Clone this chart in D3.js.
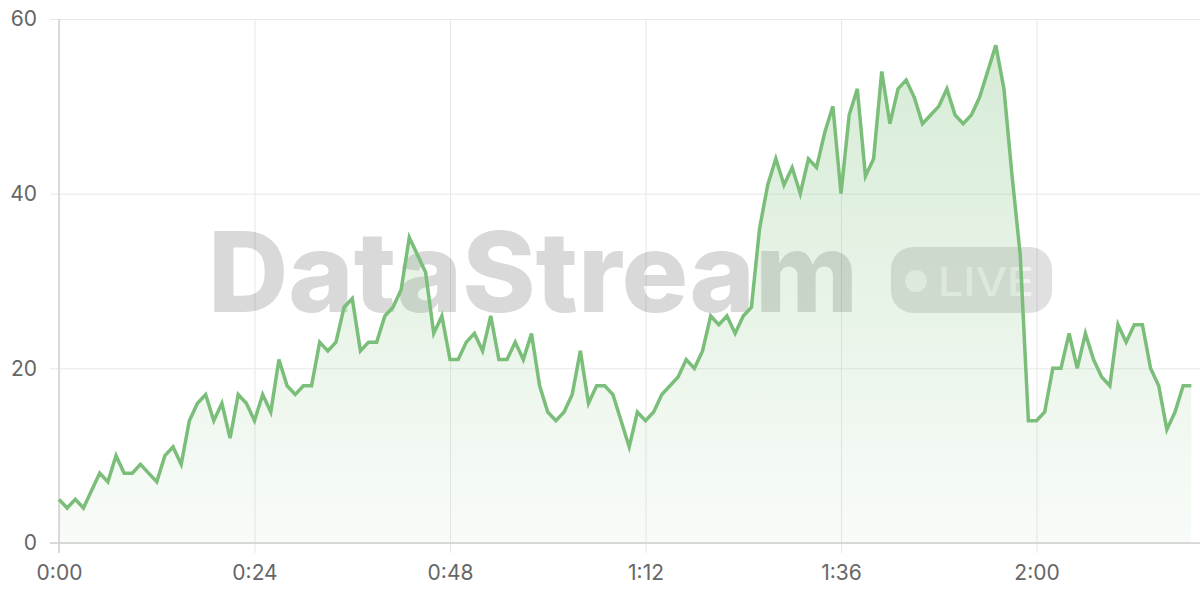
<!DOCTYPE html>
<html><head><meta charset="utf-8">
<script src="https://cdn.jsdelivr.net/npm/d3@7"></script>
<style>html,body{margin:0;padding:0;background:#fff;}svg{display:block;}</style>
</head><body>
<svg id="c" width="1200" height="600"></svg>
<script>
const seconds = d3.range(0, 140);
const values = [5,4,5,4,6,8,7,10,8,8,9,8,7,10,11,9,14,16,17,14,16,12,17,16,14,17,15,21,18,17,18,18,23,22,23,27,28,22,23,23,26,27,29,35,33,31,24,26,21,21,23,24,22,26,21,21,23,21,24,18,15,14,15,17,22,16,18,18,17,14,11,15,14,15,17,18,19,21,20,22,26,25,26,24,26,27,36,41,44,41,43,40,44,43,47,50,40,49,52,42,44,54,48,52,53,51,48,49,50,52,49,48,49,51,54,57,52,42,33,14,14,15,20,20,24,20,24,21,19,18,25,23,25,25,20,18,13,15,18,18];
const xTicks = [0, 24, 48, 72, 96, 120];
const yTicks = [0, 20, 40, 60];
const watermarkText = "DataStream";
const badgeText = "LIVE";

const svg = d3.select("#c");
const x = d3.scaleLinear().domain([0, 139]).range([59, 1191.3]);
const y = d3.scaleLinear().domain([0, 60]).range([543, 19]);
const fmt = s => Math.floor(s / 60) + ":" + String(s % 60).padStart(2, "0");
const data = seconds.map((s, i) => ({s, v: values[i]}));
const FONT = "Inter, 'Liberation Sans', Arial, sans-serif";

const defs = svg.append("defs");
const grad = defs.append("linearGradient").attr("id", "fillGrad")
  .attr("gradientUnits", "userSpaceOnUse").attr("x1", 0).attr("x2", 0)
  .attr("y1", y(60)).attr("y2", y(0));
grad.append("stop").attr("offset", "0%").attr("stop-color", "rgb(122,190,122)").attr("stop-opacity", 0.32);
grad.append("stop").attr("offset", "100%").attr("stop-color", "rgb(122,190,122)").attr("stop-opacity", 0.05);

// grid
const yGrid = svg.append("g")
  .attr("transform", "translate(59,0)")
  .call(d3.axisLeft(y).tickValues(yTicks).tickSize(-1141).tickFormat(""));
yGrid.select(".domain").remove();
yGrid.selectAll("line").attr("stroke", "#e8e8e8").attr("stroke-width", 1).attr("x1", -9);

const xGrid = svg.append("g")
  .attr("transform", "translate(0,543)")
  .call(d3.axisBottom(x).tickValues(xTicks).tickSize(-524).tickFormat(""));
xGrid.select(".domain").remove();
xGrid.selectAll("line").attr("stroke", "#e8e8e8").attr("stroke-width", 1).attr("y1", 10);

// axis lines
svg.append("line").attr("x1", 59).attr("x2", 59).attr("y1", 19).attr("y2", 553)
  .attr("stroke", "#d2d2d2").attr("stroke-width", 1.5);
svg.append("line").attr("x1", 50).attr("x2", 1200).attr("y1", 543).attr("y2", 543)
  .attr("stroke", "#d2d2d2").attr("stroke-width", 1.5);

// watermark
const wm = svg.append("g");
wm.append("text").attr("x", 208).attr("y", 312)
  .attr("font-family", FONT).attr("font-weight", 800)
  .attr("font-size", 111).attr("textLength", 650).attr("lengthAdjust", "spacingAndGlyphs")
  .attr("fill", "rgba(0,0,0,0.15)")
  .text(watermarkText);
wm.append("rect").attr("x", 891).attr("y", 247).attr("width", 161).attr("height", 66).attr("rx", 22)
  .attr("fill", "rgba(0,0,0,0.12)");
wm.append("circle").attr("cx", 916).attr("cy", 281).attr("r", 11).attr("fill", "rgba(255,255,255,0.6)");
wm.append("text").attr("x", 938).attr("y", 296)
  .attr("font-family", FONT).attr("font-weight", 500)
  .attr("font-size", 40).attr("textLength", 96).attr("lengthAdjust", "spacingAndGlyphs")
  .attr("fill", "rgba(255,255,255,0.6)")
  .text(badgeText);

// area + line
svg.append("path").datum(data)
  .attr("d", d3.area().x(d => x(d.s)).y0(y(0)).y1(d => y(d.v)))
  .attr("fill", "url(#fillGrad)");
svg.append("path").datum(data)
  .attr("d", d3.line().x(d => x(d.s)).y(d => y(d.v)))
  .attr("fill", "none").attr("stroke", "rgb(122,190,122)").attr("stroke-width", 3.5)
  .attr("stroke-linejoin", "miter");

// labels
const yAx = svg.append("g").attr("transform", "translate(37,0)")
  .call(d3.axisLeft(y).tickValues(yTicks).tickSize(0).tickPadding(0));
yAx.select(".domain").remove();
yAx.selectAll("text").attr("font-family", FONT)
  .attr("font-size", 21).attr("fill", "#666");

const xAx = svg.append("g").attr("transform", "translate(0,565)")
  .call(d3.axisBottom(x).tickValues(xTicks).tickSize(0).tickPadding(0).tickFormat(fmt));
xAx.select(".domain").remove();
xAx.selectAll("text").attr("font-family", FONT)
  .attr("font-size", 21).attr("fill", "#666");
</script>
</body></html>
